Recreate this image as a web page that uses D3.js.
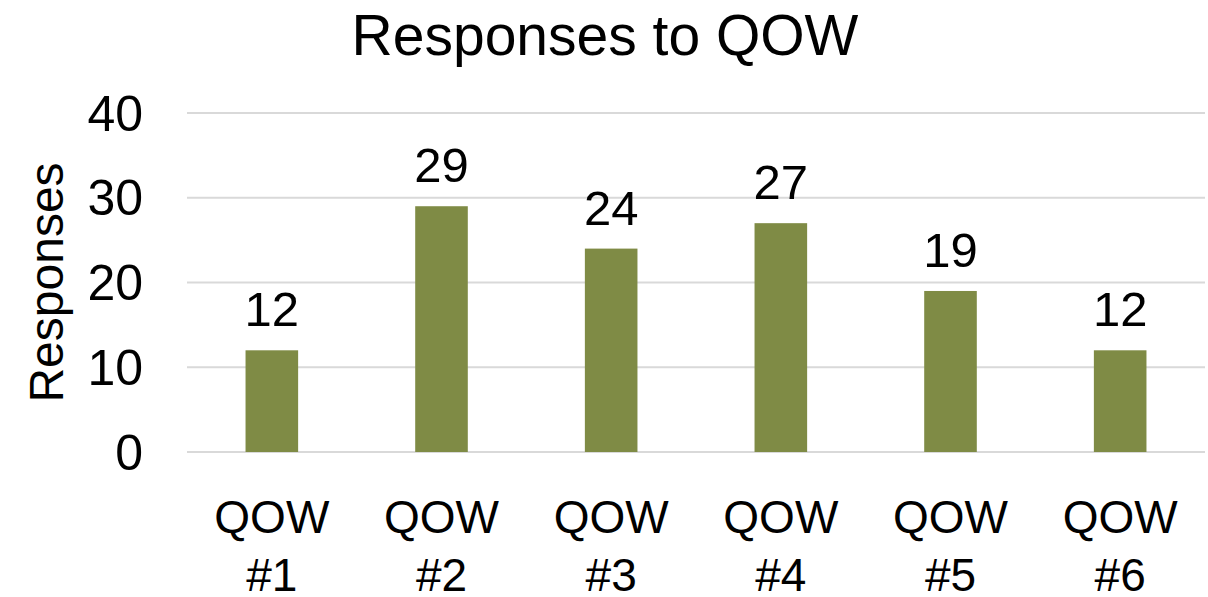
<!DOCTYPE html>
<html>
<head>
<meta charset="utf-8">
<script src="https://cdn.jsdelivr.net/npm/d3@7"></script>
<style>
  body { margin: 0; background: #fff; }
  text { font-family: "Liberation Sans", Arial, sans-serif; fill: #000; }
</style>
</head>
<body>
<div id="chart"></div>
<script>
// chart data
const categories = ['QOW #1', 'QOW #2', 'QOW #3', 'QOW #4', 'QOW #5', 'QOW #6'];
const responses = [12, 29, 24, 27, 19, 12];
const yTicks = [0, 10, 20, 30, 40];

const width = 1208;
const height = 597;
const margin = { top: 113, right: 3, bottom: 145, left: 187 };

const svg = d3
  .select('#chart')
  .append('svg')
  .attr('width', width)
  .attr('height', height);

const x = d3
  .scaleBand()
  .domain(categories)
  .range([margin.left, width - margin.right])
  .paddingInner(0.69)
  .paddingOuter(0.345);

const y = d3
  .scaleLinear()
  .domain([0, 40])
  .range([height - margin.bottom, margin.top]);

// gridlines
svg
  .append('g')
  .selectAll('line')
  .data(yTicks)
  .join('line')
  .attr('x1', margin.left)
  .attr('x2', width - margin.right)
  .attr('y1', (d) => y(d))
  .attr('y2', (d) => y(d))
  .attr('stroke', '#d9d9d9')
  .attr('stroke-width', 2);

// y axis labels
const yAxis = svg
  .append('g')
  .attr('transform', `translate(${margin.left - 44},0)`)
  .call(d3.axisLeft(y).tickValues(yTicks).tickSize(0).tickPadding(0));
yAxis.select('.domain').remove();
yAxis.selectAll('text').style('font-size', '50px').attr('dy', '0.34em');

// bars
svg
  .append('g')
  .selectAll('rect')
  .data(responses)
  .join('rect')
  .attr('x', (d, i) => x(categories[i]))
  .attr('y', (d) => y(d))
  .attr('width', x.bandwidth())
  .attr('height', (d) => y(0) - y(d))
  .attr('fill', '#7f8b45');

// value labels
svg
  .append('g')
  .selectAll('text')
  .data(responses)
  .join('text')
  .attr('x', (d, i) => x(categories[i]) + x.bandwidth() / 2)
  .attr('y', (d) => y(d) - 24)
  .attr('text-anchor', 'middle')
  .style('font-size', '49px')
  .text((d) => d);

// x axis labels, two lines each
const xLabels = svg
  .append('g')
  .selectAll('text')
  .data(categories)
  .join('text')
  .attr('text-anchor', 'middle')
  .style('font-size', '46px');
xLabels
  .selectAll('tspan')
  .data((d) => d.split(' ').map((t) => ({ t, c: d })))
  .join('tspan')
  .attr('x', (d) => x(d.c) + x.bandwidth() / 2)
  .attr('y', (d, i) => 533 + i * 58)
  .text((d) => d.t);

// y axis title
svg
  .append('text')
  .attr('transform', `translate(63,${(y(0) + y(40)) / 2}) rotate(-90)`)
  .attr('text-anchor', 'middle')
  .style('font-size', '48px')
  .text('Responses');

// chart title
svg
  .append('text')
  .attr('x', 605)
  .attr('y', 55)
  .attr('text-anchor', 'middle')
  .style('font-size', '57px')
  .text('Responses to QOW');
</script>
</body>
</html>
